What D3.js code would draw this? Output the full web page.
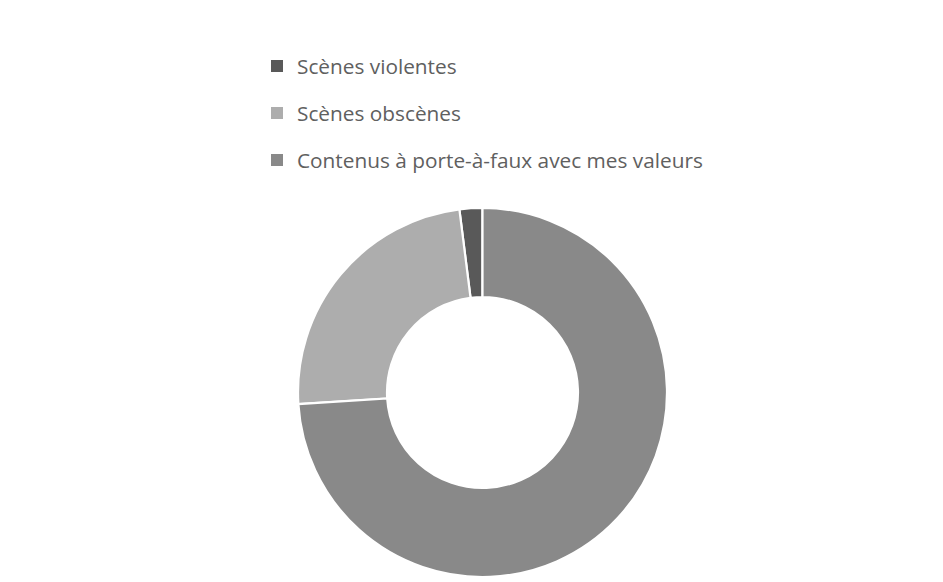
<!DOCTYPE html>
<html>
<head>
<meta charset="utf-8">
<script src="https://cdn.jsdelivr.net/npm/d3@7"></script>
<style>
  html, body { margin: 0; padding: 0; background: #ffffff; }
  svg { display: block; }
</style>
</head>
<body>
<div id="chart"></div>
<script>
// Categories, shares (%) and fills of the doughnut
const categories = [
  "Scènes violentes",
  "Scènes obscènes",
  "Contenus à porte-à-faux avec mes valeurs"
];
const values = [2, 24, 74];
const colors = ["#595959", "#adadad", "#898989"];

const width = 943, height = 582;
const cx = 482.5, cy = 392.5;
const outerR = 184.5, innerR = 95.5;

const svg = d3.select("#chart").append("svg")
  .attr("width", width)
  .attr("height", height);

const data = categories.map((c, i) => ({ name: c, value: values[i], color: colors[i] }));

// Largest share first, clockwise from 12 o'clock
const pie = d3.pie()
  .value(d => d.value)
  .sort((a, b) => b.value - a.value);

const arc = d3.arc()
  .innerRadius(innerR)
  .outerRadius(outerR);

svg.append("g")
  .attr("transform", `translate(${cx},${cy})`)
  .selectAll("path")
  .data(pie(data))
  .join("path")
  .attr("d", arc)
  .attr("fill", d => d.data.color)
  .attr("stroke", "#ffffff")
  .attr("stroke-width", 2.2)
  .attr("stroke-linejoin", "miter");

// Legend
const legend = svg.append("g").attr("transform", "translate(271,0)");
const rowY = d3.scalePoint().domain(categories).range([66, 160]);

const item = legend.selectAll("g.item")
  .data(data)
  .join("g")
  .attr("class", "item")
  .attr("transform", d => `translate(0,${rowY(d.name)})`);

item.append("rect")
  .attr("x", 0).attr("y", -6)
  .attr("width", 12).attr("height", 12)
  .attr("fill", d => d.color);

item.append("text")
  .attr("x", 26)
  .attr("y", 8)
  .attr("font-family", "'Open Sans', sans-serif")
  .attr("font-size", 20.8)
  .attr("fill", "#606060")
  .text(d => d.name);
</script>
</body>
</html>
